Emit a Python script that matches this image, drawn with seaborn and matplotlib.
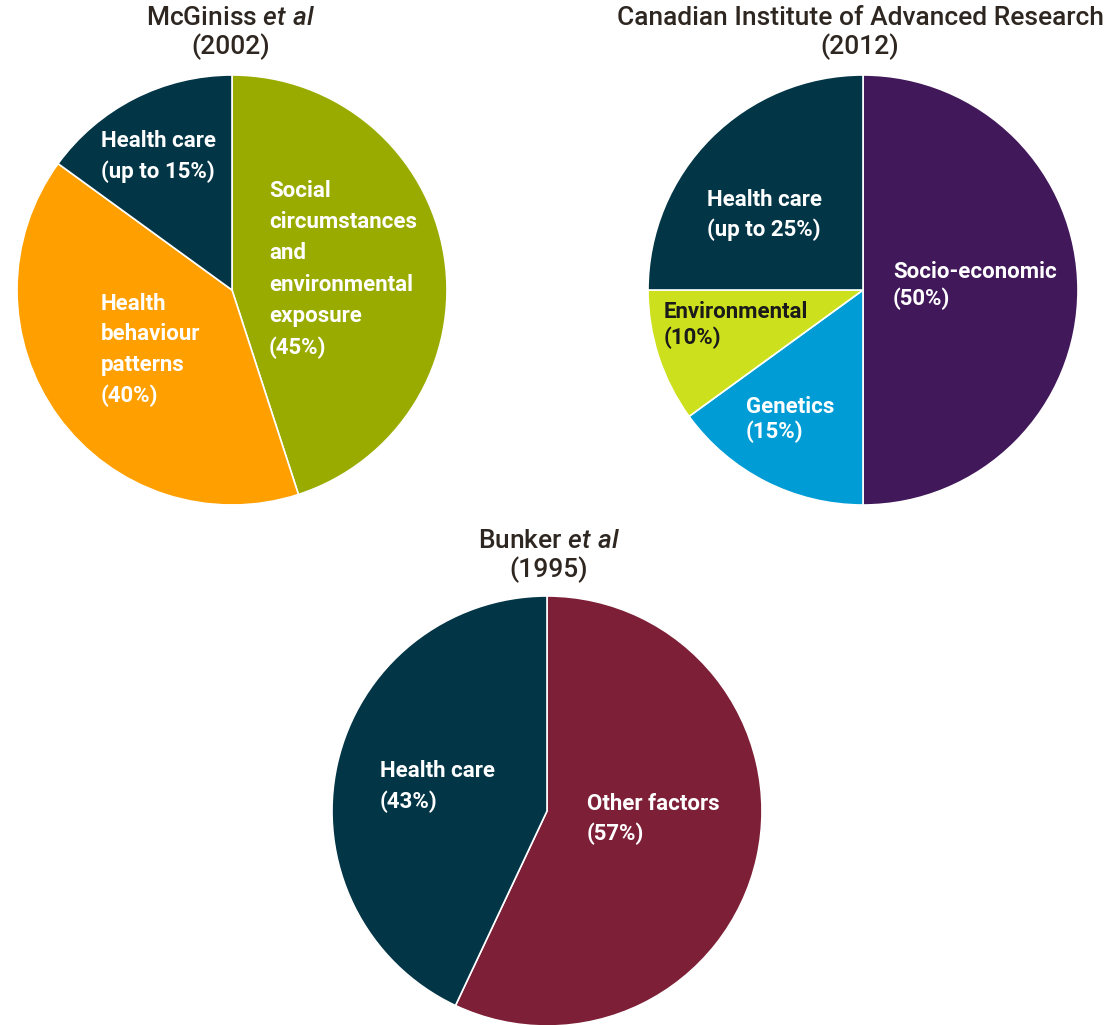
import matplotlib.pyplot as plt
import seaborn as sns

# ----------------- Data ----------------
mcg_labels = ['Social\ncircumstances\nand\nenvironmental\nexposure\n(45%)',
              'Health\nbehaviour\npatterns\n(40%)',
              'Health care\n(up to 15%)']
mcg_values = [45, 40, 15]

ciar_labels = ['Socio-economic\n(50%)', 'Genetics\n(15%)',
               'Environmental\n(10%)', 'Health care\n(up to 25%)']
ciar_values = [50, 15, 10, 25]

bunker_labels = ['Other factors\n(57%)', 'Health care\n(43%)']
bunker_values = [57, 43]

titles = ['McGiniss $\\it{et\\ al}$\n(2002)',
          'Canadian Institute of Advanced Research\n(2012)',
          'Bunker $\\it{et\\ al}$\n(1995)']

# ----------------- Style ----------------
sns.set_theme(style="white")
plt.rcParams['font.family'] = ['Roboto', 'DejaVu Sans']
plt.rcParams['mathtext.fontset'] = 'custom'
plt.rcParams['mathtext.it'] = 'Roboto:italic:medium'
plt.rcParams['mathtext.rm'] = 'Roboto'

navy = '#023546'
mcg_colors = ['#9aab00', '#ffa000', navy]
ciar_colors = ['#41185a', '#009cd6', '#cde01e', navy]
bunker_colors = ['#7d1f37', navy]
title_color = '#2e2620'

W, H = 1117, 1025
fig = plt.figure(figsize=(W / 100, H / 100), dpi=100)
ax = fig.add_axes([0, 0, 1, 1])

# pie layout in pixel coordinates (image y measured from top)
pies = [
    dict(values=mcg_values, colors=mcg_colors, labels=mcg_labels, center=(232, 290),
         title=titles[0], title_xy=(231, 33),
         label_xy=[(269, 269.5), (101, 350), (101, 156.5)],
         label_col=['white', 'white', 'white'],
         spacing=[1.55, 1.5, 1.5]),
    dict(values=ciar_values, colors=ciar_colors, labels=ciar_labels, center=(863, 290),
         title=titles[1], title_xy=(860, 33),
         label_xy=[(893, 285.5), (746, 419.5), (664, 325), (707, 215)],
         label_col=['white', 'white', '#1a1a1a', 'white'],
         spacing=[1.25, 1.15, 1.2, 1.4]),
    dict(values=bunker_values, colors=bunker_colors, labels=bunker_labels, center=(547, 811),
         title=titles[2], title_xy=(549, 556),
         label_xy=[(587, 819), (380, 786.5)],
         label_col=['white', 'white'],
         spacing=[1.45, 1.45]),
]

R = 215
for p in pies:
    cx, cy = p['center']
    ax.pie(p['values'], colors=p['colors'], startangle=90, counterclock=False,
           center=(cx, H - cy), radius=R, frame=True,
           wedgeprops=dict(edgecolor='white', linewidth=1.2))
    for lab, (lx, ly), col, ls in zip(p['labels'], p['label_xy'], p['label_col'], p['spacing']):
        ax.text(lx, H - ly, lab, ha='left', va='center', color=col,
                fontsize=16, fontweight='semibold', linespacing=ls)
    tx, ty = p['title_xy']
    ax.text(tx, H - ty, p['title'], ha='center', va='center', color=title_color,
            fontsize=19, fontweight='medium', linespacing=1.15)

ax.set_xlim(0, W)
ax.set_ylim(0, H)
ax.set_aspect('auto')
ax.axis('off')

fig.savefig('out.png', dpi=100)
